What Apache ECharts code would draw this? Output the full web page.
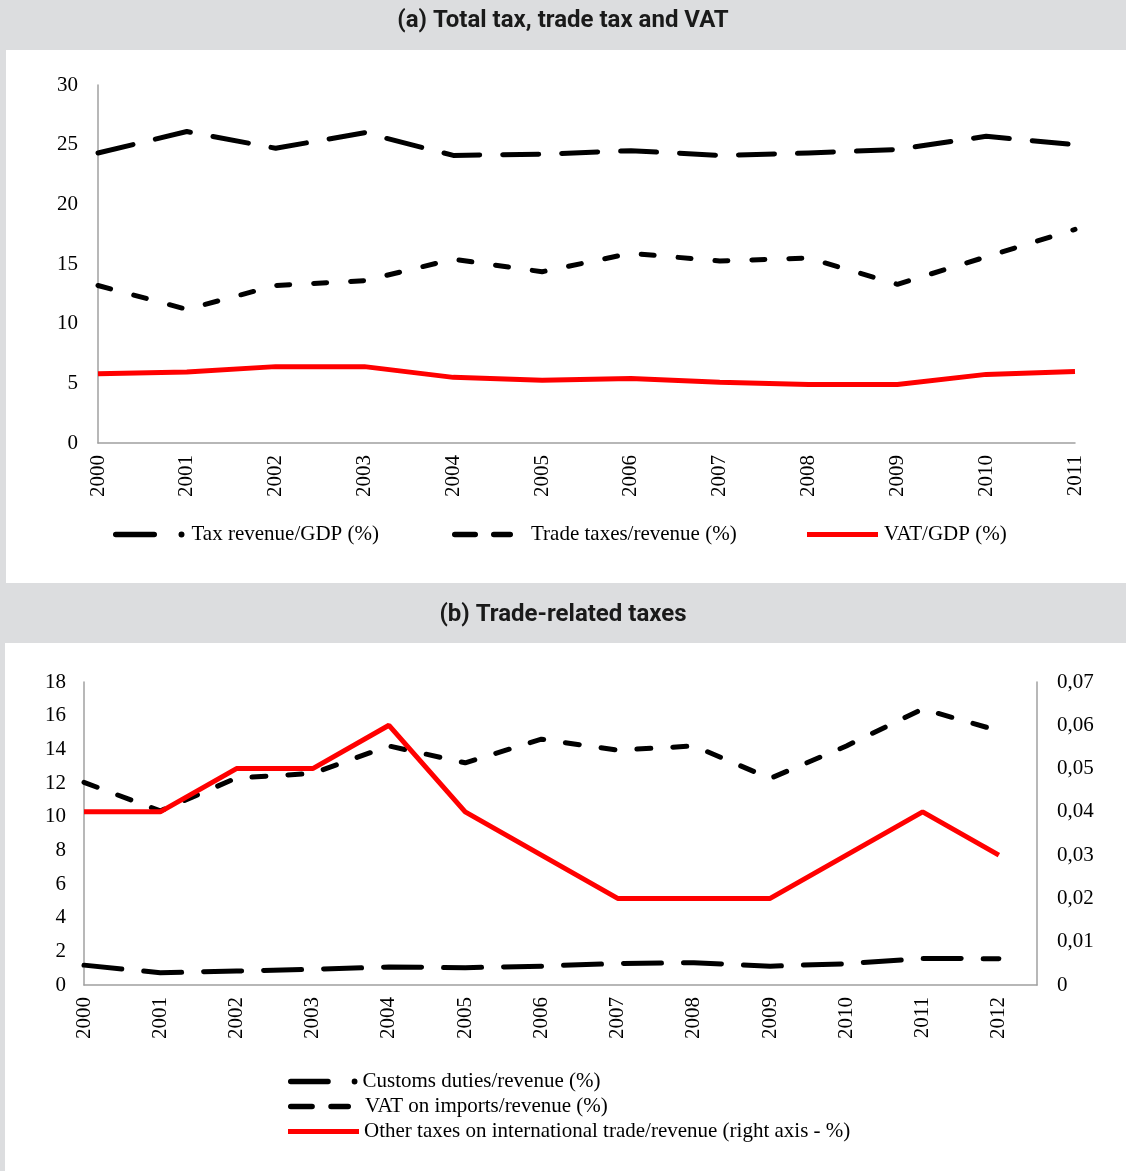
<!DOCTYPE html>
<html>
<head>
<meta charset="utf-8">
<script src="https://cdn.jsdelivr.net/npm/echarts@6/dist/echarts.min.js"></script>
<style>
html,body{margin:0;padding:0;background:#dcdddf;}
#main{width:1126px;height:1171px;}
</style>
</head>
<body>
<div id="main"></div>
<script>
// panel (a) data
var yearsA = ['2000','2001','2002','2003','2004','2005','2006','2007','2008','2009','2010','2011'];
var taxRevenueGdp = [24.3, 26.1, 24.7, 26.0, 24.1, 24.2, 24.5, 24.1, 24.3, 24.6, 25.7, 25.0];
var tradeTaxesRevenue = [13.2, 11.2, 13.2, 13.6, 15.4, 14.35, 15.9, 15.25, 15.5, 13.3, 15.6, 17.9];
var vatGdp = [5.8, 5.95, 6.4, 6.4, 5.5, 5.25, 5.4, 5.1, 4.9, 4.9, 5.75, 6.0];

// panel (b) data
var yearsB = [2000, 2001, 2002, 2003, 2004, 2005, 2006, 2007, 2008, 2009, 2010, 2011, 2012];
var customsDuties = [1.18, 0.73, 0.83, 0.93, 1.07, 1.03, 1.12, 1.28, 1.32, 1.12, 1.26, 1.58, 1.56];
var vatImports = [12.04, 10.34, 12.3, 12.57, 14.2, 13.2, 14.6, 13.95, 14.2, 12.27, 14.2, 16.4, 15.1];
var otherTradeTaxes = [0.04, 0.04, 0.05, 0.05, 0.06, 0.04, 0.03, 0.02, 0.02, 0.02, 0.03, 0.04, 0.03];

var serif = 'Liberation Serif';
var axisGray = '#a0a0a0';

//legend icons: long dash + dot, two short dashes
var iconDashDot = 'path://M2.75,0.25H41.25A2.75,2.75 0 0 1 41.25,5.75H2.75A2.75,2.75 0 0 1 2.75,0.25Z M65.5,3A3,3 0 1 0 71.5,3A3,3 0 1 0 65.5,3Z';
var iconTwoDash = 'path://M2.75,0.25H23.25A2.75,2.75 0 0 1 23.25,5.75H2.75A2.75,2.75 0 0 1 2.75,0.25Z M41.75,0.25H58.25A2.75,2.75 0 0 1 58.25,5.75H41.75A2.75,2.75 0 0 1 41.75,0.25Z';

function legendAt(name, left, top, icon, w, h, pad) {
    return {
        data: [name], left: left, top: top, icon: icon,
        itemWidth: w, itemHeight: h, padding: 0,
        symbolKeepAspect: false, selectedMode: false,
        itemStyle: { borderWidth: 0 },
        textStyle: { fontFamily: serif, fontSize: 21, color: '#000', padding: [0, 0, 0, pad] }
    };
}

function pair(xs, ys) {
    return xs.map(function (x, i) { return [x, ys[i]]; });
}

var myChart = echarts.init(document.getElementById('main'));
var option = {
    animation: false,
    backgroundColor: '#dcdddf',
    graphic: [
        { type: 'rect', z: -10, shape: { x: 6, y: 50, width: 1120, height: 533 }, style: { fill: '#fff' } },
        { type: 'rect', z: -10, shape: { x: 5, y: 643, width: 1121, height: 528 }, style: { fill: '#fff' } }
    ],
    title: [
        { text: '(a) Total tax, trade tax and VAT', left: 'center', top: 9, padding: 0,
          textStyle: { fontFamily: 'Roboto', fontWeight: 'bold', fontSize: 24, color: '#1a1a1a' } },
        { text: '(b) Trade-related taxes', left: 'center', top: 603, padding: 0,
          textStyle: { fontFamily: 'Roboto', fontWeight: 'bold', fontSize: 24, color: '#1a1a1a' } }
    ],
    legend: [
        legendAt('Tax revenue/GDP (%)', 113, 524, iconDashDot, 71.5, 6, 2),
        legendAt('Trade taxes/revenue (%)', 452, 524, iconTwoDash, 61, 5.5, 13),
        legendAt('VAT/GDP (%)', 807, 524, 'rect', 71, 5, 1),
        legendAt('Customs duties/revenue (%)', 288, 1071, iconDashDot, 69.5, 6, 0),
        legendAt('VAT on imports/revenue (%)', 288, 1096, iconTwoDash, 63, 5.5, 9),
        legendAt('Other taxes on international trade/revenue (right axis - %)', 288, 1121, 'rect', 71, 5, 0)
    ],
    grid: [
        { left: 98, right: 51, top: 85, bottom: 728 },
        { left: 84, right: 89, top: 682, bottom: 186 }
    ],
    xAxis: [
        {
            gridIndex: 0, type: 'category', data: yearsA, boundaryGap: false,
            axisLine: { lineStyle: { color: axisGray, width: 1.5 } },
            axisTick: { show: false },
            axisLabel: { interval: 0, rotate: 90, margin: 12, fontFamily: serif, fontSize: 21, color: '#000' }
        },
        {
            gridIndex: 1, type: 'value', min: 2000, max: 2012.5, interval: 1,
            axisLine: { lineStyle: { color: axisGray, width: 1.5 } },
            axisTick: { show: false },
            splitLine: { show: false },
            axisLabel: {
                rotate: 90, margin: 12, fontFamily: serif, fontSize: 21, color: '#000',
                formatter: function (v) { return Number.isInteger(v) ? String(v) : ''; }
            }
        }
    ],
    yAxis: [
        {
            gridIndex: 0, type: 'value', min: 0, max: 30, interval: 5,
            axisLine: { show: true, lineStyle: { color: axisGray, width: 1.5 } },
            axisTick: { show: false }, splitLine: { show: false },
            axisLabel: { margin: 20, fontFamily: serif, fontSize: 21, color: '#000' }
        },
        {
            gridIndex: 1, type: 'value', min: 0, max: 18, interval: 2,
            axisLine: { show: true, lineStyle: { color: axisGray, width: 1.5 } },
            axisTick: { show: false }, splitLine: { show: false },
            axisLabel: { margin: 18, fontFamily: serif, fontSize: 21, color: '#000' }
        },
        {
            gridIndex: 1, type: 'value', position: 'right', min: 0, max: 0.07, interval: 0.01,
            axisLine: { show: true, lineStyle: { color: axisGray, width: 1.5 } },
            axisTick: { show: false }, splitLine: { show: false },
            axisLabel: {
                margin: 20, fontFamily: serif, fontSize: 21, color: '#000',
                formatter: function (v) { return v === 0 ? '0' : v.toFixed(2).replace('.', ','); }
            }
        }
    ],
    series: [
        {
            name: 'Tax revenue/GDP (%)', type: 'line', xAxisIndex: 0, yAxisIndex: 0,
            data: taxRevenueGdp, symbol: 'none', color: '#000',
            lineStyle: { width: 5, color: '#000', type: [36, 23], cap: 'round', join: 'round' }
        },
        {
            name: 'Trade taxes/revenue (%)', type: 'line', xAxisIndex: 0, yAxisIndex: 0,
            data: tradeTaxesRevenue, symbol: 'none', color: '#000',
            lineStyle: { width: 5, color: '#000', type: [13, 24], cap: 'round', join: 'round' }
        },
        {
            name: 'VAT/GDP (%)', type: 'line', xAxisIndex: 0, yAxisIndex: 0,
            data: vatGdp, symbol: 'none', color: '#ff0000',
            lineStyle: { width: 5, color: '#ff0000' }
        },
        {
            name: 'Customs duties/revenue (%)', type: 'line', xAxisIndex: 1, yAxisIndex: 1,
            data: pair(yearsB, customsDuties), symbol: 'none', color: '#000',
            lineStyle: { width: 5, color: '#000', type: [38, 22], cap: 'round', join: 'round' }
        },
        {
            name: 'VAT on imports/revenue (%)', type: 'line', xAxisIndex: 1, yAxisIndex: 1,
            data: pair(yearsB, vatImports), symbol: 'none', color: '#000',
            lineStyle: { width: 5, color: '#000', type: [14, 22], cap: 'round', join: 'round' }
        },
        {
            name: 'Other taxes on international trade/revenue (right axis - %)', type: 'line', xAxisIndex: 1, yAxisIndex: 2,
            data: pair(yearsB, otherTradeTaxes), symbol: 'none', color: '#ff0000',
            lineStyle: { width: 5, color: '#ff0000' }
        }
    ]
};
myChart.setOption(option);
window.addEventListener('resize', function () {
    myChart.resize();
});
</script>
</body>
</html>
